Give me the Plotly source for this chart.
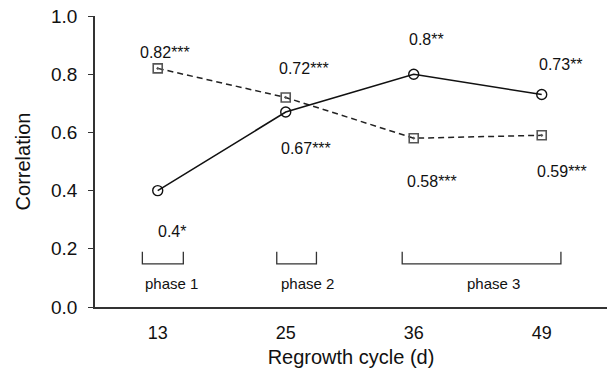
import plotly.graph_objects as go

categories = ["13", "25", "36", "49"]
series_a = [0.40, 0.67, 0.80, 0.73]   # solid, circles
series_b = [0.82, 0.72, 0.58, 0.59]   # dashed, squares
labels_a = ["0.4*", "0.67***", "0.8**", "0.73**"]
labels_b = ["0.82***", "0.72***", "0.58***", "0.59***"]
yticks = [0.0, 0.2, 0.4, 0.6, 0.8, 1.0]
phases = ["phase 1", "phase 2", "phase 3"]

xpos = list(range(len(categories)))
font = "Liberation Sans, Arial, sans-serif"

fig = go.Figure()
fig.add_trace(go.Scatter(x=xpos, y=series_b, mode="lines+markers",
                         line=dict(color="#222", width=1.5, dash="6px,4px"),
                         marker=dict(symbol="square-open-dot", size=9, color="#555",
                                     line=dict(width=1.6, color="#555"))))
fig.add_trace(go.Scatter(x=xpos, y=series_a, mode="lines+markers",
                         line=dict(color="#111", width=1.5),
                         marker=dict(symbol="circle-open", size=10, color="#111",
                                     line=dict(width=1.4))))

# annotations: positions per label
a_off = [(0.11, 0.258), (1.16, 0.543), (2.10, 0.918), (3.15, 0.835)]
b_off = [(0.06, 0.875), (1.14, 0.818), (2.14, 0.43), (3.16, 0.464)]
for (x, y), t in zip(a_off, labels_a):
    fig.add_annotation(x=x, y=y, text=t, showarrow=False, font=dict(size=16, color="#111", family=font))
for (x, y), t in zip(b_off, labels_b):
    fig.add_annotation(x=x, y=y, text=t, showarrow=False, font=dict(size=16, color="#111", family=font))

# phase brackets
brackets = [(-0.12, 0.20), (0.93, 1.24), (1.91, 3.15)]
for x0, x1 in brackets:
    fig.add_trace(go.Scatter(x=[x0, x0, x1, x1], y=[0.19, 0.148, 0.148, 0.19], mode="lines",
                             line=dict(color="#333", width=1.3), hoverinfo="skip"))
phase_x = [0.11, 1.17, 2.62]
for x, t in zip(phase_x, phases):
    fig.add_annotation(x=x, y=0.082, text=t, showarrow=False, font=dict(size=15, color="#111", family=font))

fig.update_layout(
    width=607, height=368, margin=dict(l=95, r=0, t=16, b=61),
    plot_bgcolor="white", paper_bgcolor="white", showlegend=False,
    font=dict(family=font, color="#111"),
)
fig.update_xaxes(range=[-0.49, 3.51], tickvals=xpos, ticktext=categories, showgrid=False,
                 zeroline=False, showline=True, linecolor="#333", linewidth=1.5, ticks="",
                 tickfont=dict(size=18), ticklabelstandoff=9,
                 title=dict(text="Regrowth cycle (d)", font=dict(size=20), standoff=8))
fig.update_yaxes(range=[0, 1.0], tickvals=yticks, ticktext=[f"{v:.1f}" for v in yticks], showgrid=False,
                 zeroline=False, showline=True, linecolor="#333", linewidth=1.5, ticks="outside",
                 ticklen=5, tickcolor="#333", tickwidth=1.3, tickfont=dict(size=19), ticklabelstandoff=7,
                 title=dict(text="Correlation", font=dict(size=20), standoff=15))

fig.write_html("out.html")
